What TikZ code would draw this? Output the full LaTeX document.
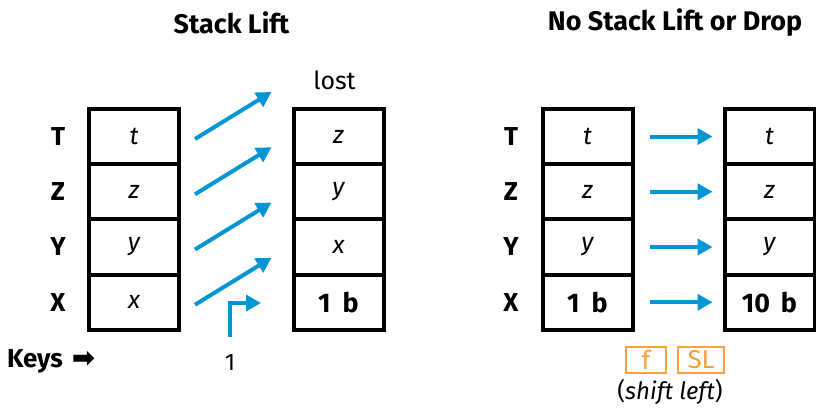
\documentclass[tikz,border=0pt]{standalone}
\usepackage{fontspec}
\setmainfont{Fira Sans}
\newfontfamily\symfont{DejaVu Sans}
\usetikzlibrary{arrows.meta,calc}
\definecolor{hpblue}{RGB}{0,150,214}
\definecolor{keyorange}{RGB}{247,160,60}

\tikzset{
  cell/.style={draw, line width=4bp, minimum width=90bp, minimum height=55.25bp,
    inner sep=0pt, outer sep=0pt, font=\fontsize{25}{25}\selectfont\itshape},
  boldcell/.style={cell, font=\fontsize{27}{27}\selectfont\bfseries},
  reglabel/.style={font=\fontsize{26}{26}\selectfont\bfseries, inner sep=0pt},
  title/.style={font=\fontsize{27}{27}\selectfont\bfseries, inner sep=0pt},
  plain/.style={font=\fontsize{24}{24}\selectfont, inner sep=0pt},
  flow/.style={draw=hpblue, line width=4bp, -{Triangle[length=15bp,width=16bp]}},
  keycap/.style={draw=keyorange, text=keyorange, line width=1.5bp, inner sep=0pt,
    minimum height=26bp, font=\fontsize{26}{26}\selectfont},
}

\begin{document}
\begin{tikzpicture}[x=1bp,y=-1bp]
\useasboundingbox (0,0) rectangle (816,407);

% titles
\node[title] (t1) at (231.5,23) {Stack Lift};
\node[title] (t2) at (675,23) {No Stack Lift or Drop};

% register names
\foreach \r/\lab [count=\i from 0] in {T/T,Z/Z,Y/Y,X/X} {
  \node[reglabel] (la\r) at (58,136.5+55.25*\i) {\lab};
  \node[reglabel] (lb\r) at (511,136.5+55.25*\i) {\lab};
}

% Stack Lift: before
\node[cell] (A1) at (134,136.5) {t};
\node[cell] (A2) at (134,191.75) {z};
\node[cell] (A3) at (134,247) {y};
\node[cell] (A4) at (134,302.25) {x};
% Stack Lift: after
\node[cell] (B1) at (338.5,136.5) {z};
\node[cell] (B2) at (338.5,191.75) {y};
\node[cell] (B3) at (338.5,247) {x};
\node[boldcell] (B4) at (338.5,302.25) {1\hspace{0.45em}b};
\node[plain, font=\fontsize{25}{25}\selectfont] (lost) at (334.5,80) {lost};

% lift arrows, each register moves up one level
\foreach \i/\j in {1/1,2/2,3/3,4/4} {
  \coordinate (s\i) at ($(A\i.east)+(16,2.5)$);
  \coordinate (e\i) at ($(B\j.west)+(-22,-44.5)$);
  \draw[flow] (s\i) -- (e\i);
}

% key entry arrow
\coordinate (k0) at (230,337);
\coordinate (k1) at (261,303);
\draw[flow] (k0) |- (k1);

\node[reglabel, anchor=west] (keys) at (7,361) {Keys\hspace{0.35em}{\symfont\fontsize{28}{28}\selectfont\char"27A1}};
\node[plain] (one) at (230,362) {1};

% No Stack Lift or Drop: before
\node[cell] (C1) at (587.5,136.5) {t};
\node[cell] (C2) at (587.5,191.75) {z};
\node[cell] (C3) at (587.5,247) {y};
\node[boldcell] (C4) at (587.5,302.25) {1\hspace{0.45em}b};
% after
\node[cell] (D1) at (769.5,136.5) {t};
\node[cell] (D2) at (769.5,191.75) {z};
\node[cell] (D3) at (769.5,247) {y};
\node[boldcell] (D4) at (769.5,302.25) {10\hspace{0.4em}b};

\foreach \i in {1,2,3,4} {
  \draw[flow, shorten <=17bp, shorten >=12bp] (C\i.east) -- (D\i.west);
}

% keys pressed
\node[keycap, minimum width=40bp] (kf) at (646,360) {f};
\node[keycap, minimum width=46bp] (ksl) at (701,360) {SL};
\node[plain] (sl) at (670,392) {(\textit{shift left})};
\end{tikzpicture}
\end{document}
